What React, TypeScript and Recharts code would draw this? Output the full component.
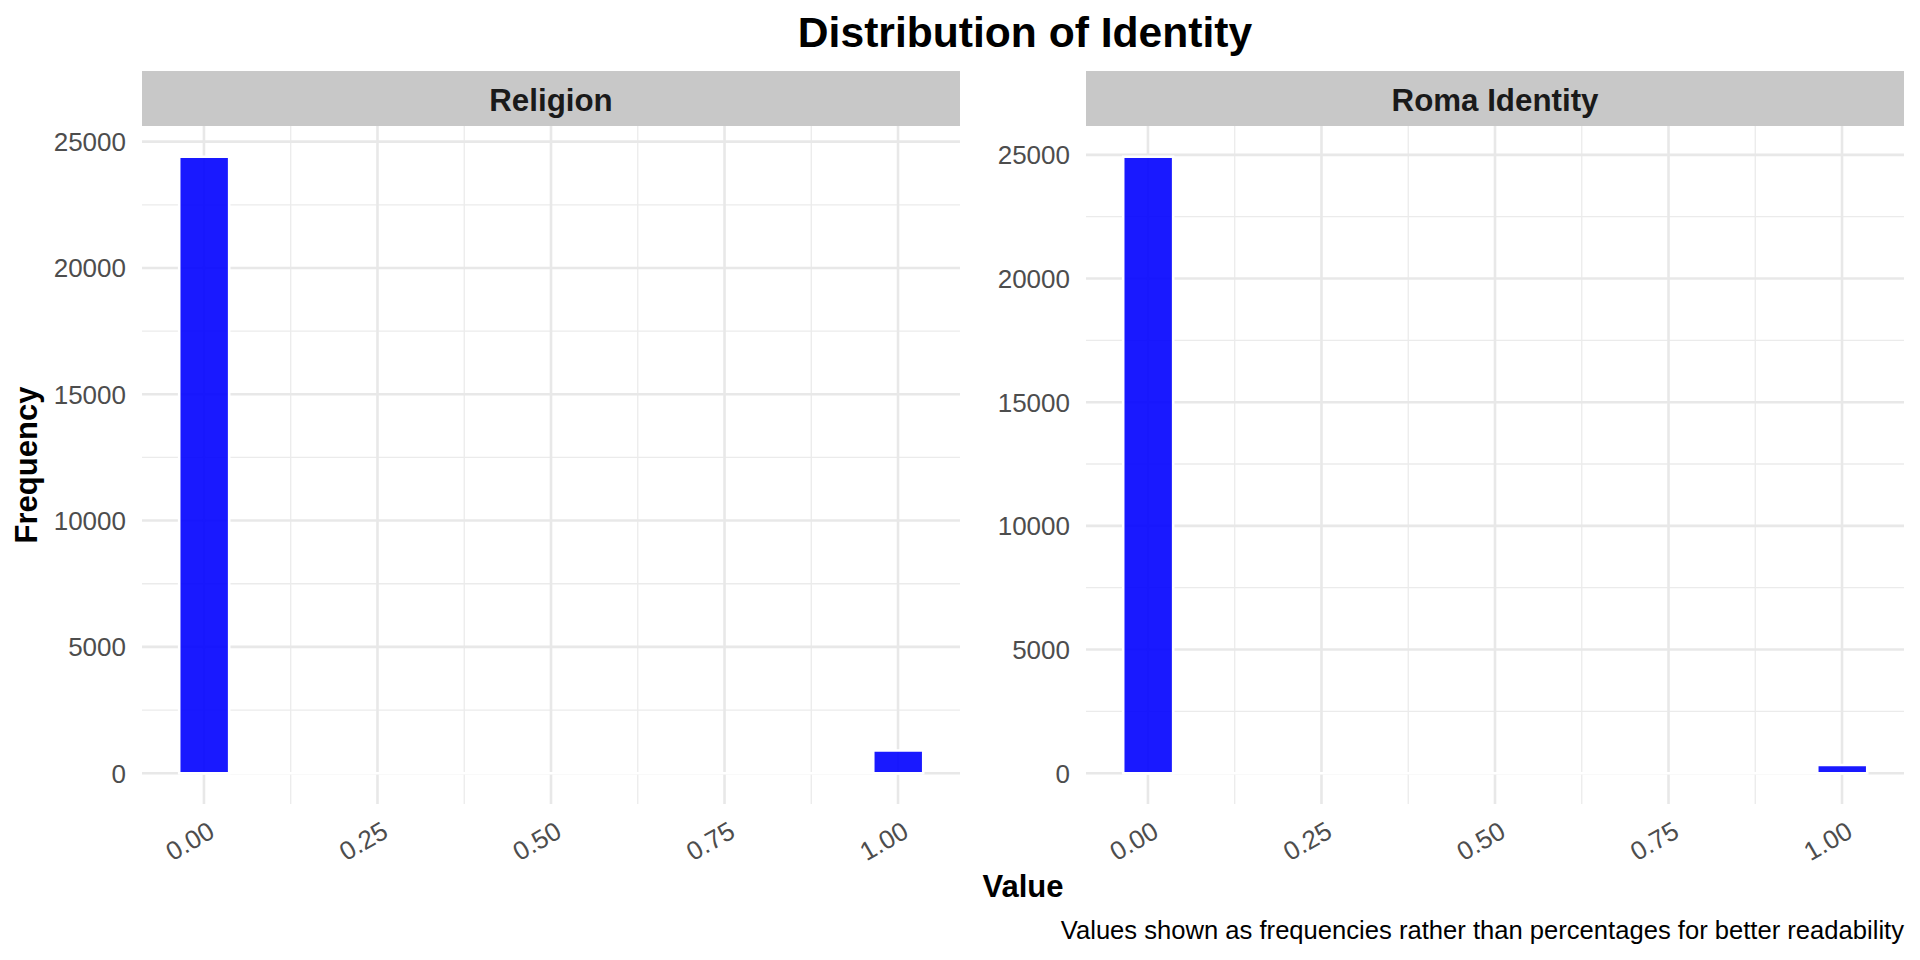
import { Bar, BarChart, CartesianGrid, ReferenceLine, XAxis, YAxis } from 'recharts';

// histogram bins (15 bins over 0..1), counts
const BIN_CENTERS = [
  0, 1 / 14, 2 / 14, 3 / 14, 4 / 14, 5 / 14, 6 / 14, 7 / 14,
  8 / 14, 9 / 14, 10 / 14, 11 / 14, 12 / 14, 13 / 14, 1,
];
const RELIGION_COUNTS = [24400, 0, 0, 0, 0, 0, 0, 0, 0, 0, 0, 0, 0, 0, 900];
const ROMA_COUNTS = [24920, 0, 0, 0, 0, 0, 0, 0, 0, 0, 0, 0, 0, 0, 330];

const X_TICKS = [0, 0.25, 0.5, 0.75, 1];
const X_MINOR = [0.125, 0.375, 0.625, 0.875];
const Y_TICKS = [0, 5000, 10000, 15000, 20000, 25000];
const Y_MINOR = [2500, 7500, 12500, 17500, 22500];

const FONT = '"Liberation Sans", Arial, Helvetica, sans-serif';
const BIN_WIDTH = 1 / 14;
const X_PAD = 0.05 * (1 + BIN_WIDTH);
const X_DOMAIN = [-BIN_WIDTH / 2 - X_PAD, 1 + BIN_WIDTH / 2 + X_PAD];

const CHART_TOP = 126;
const PLOT_H = 678;
const XAXIS_H = 80;
const TICK_FONT = 26;

function XTick(props: any) {
  const { x, y, payload } = props;
  const ax = x + 3;
  return (
    <text
      x={ax}
      y={y}
      dy="0.72em"
      textAnchor="end"
      transform={`rotate(-30 ${ax} ${y})`}
      fill="#4D4D4D"
      fontSize={TICK_FONT}
      fontFamily={FONT}
    >
      {Number(payload.value).toFixed(2)}
    </text>
  );
}

function YTick(props: any) {
  const { x, y, payload } = props;
  return (
    <text x={x} y={y} dy="0.36em" textAnchor="end" fill="#4D4D4D" fontSize={TICK_FONT} fontFamily={FONT}>
      {payload.value}
    </text>
  );
}

function Panel({ counts, width, yAxisWidth }: { counts: number[]; width: number; yAxisWidth: number }) {
  const data = BIN_CENTERS.map((x, i) => ({ x, count: counts[i] }));
  const max = Math.max(...counts);
  const yDomain = [-0.05 * max, 1.05 * max];

  return (
    <BarChart
      width={width}
      height={PLOT_H + XAXIS_H}
      data={data}
      margin={{ top: 0, right: 0, bottom: 0, left: 0 }}
      barCategoryGap={0}
      barGap={0}
    >
      <CartesianGrid horizontalValues={Y_MINOR} verticalValues={X_MINOR} stroke="#EBEBEB" strokeWidth={1.3} />
      <CartesianGrid horizontalValues={Y_TICKS} verticalValues={X_TICKS} stroke="#E8E8E8" strokeWidth={2.6} />
      <XAxis
        dataKey="x"
        type="number"
        domain={X_DOMAIN}
        ticks={X_TICKS}
        interval={0}
        allowDataOverflow
        axisLine={false}
        tickLine={false}
        tickSize={0}
        tickMargin={16}
        height={XAXIS_H}
        tick={XTick}
      />
      <YAxis
        type="number"
        domain={yDomain}
        ticks={Y_TICKS}
        interval={0}
        allowDataOverflow
        axisLine={false}
        tickLine={false}
        tickSize={0}
        tickMargin={16}
        width={yAxisWidth}
        tick={YTick}
      />
      <ReferenceLine
        segment={[
          { x: -BIN_WIDTH / 2, y: 0 },
          { x: 1 + BIN_WIDTH / 2, y: 0 },
        ]}
        stroke="#FFFFFF"
        strokeWidth={2.6}
      />
      <Bar
        dataKey="count"
        fill="#0000FF"
        fillOpacity={0.9}
        stroke="#FFFFFF"
        strokeWidth={2.6}
        isAnimationActive={false}
      />
    </BarChart>
  );
}

export default function App() {
  return (
    <div
      style={{
        position: 'absolute',
        left: 0,
        top: 0,
        width: 1920,
        height: 960,
        background: '#FFFFFF',
        fontFamily: FONT,
        overflow: 'hidden',
      }}
    >
      <div style={{ position: 'absolute', left: 0, top: CHART_TOP }}>
        <Panel counts={RELIGION_COUNTS} width={960} yAxisWidth={142} />
      </div>
      <div style={{ position: 'absolute', left: 960, top: CHART_TOP }}>
        <Panel counts={ROMA_COUNTS} width={944} yAxisWidth={126} />
      </div>

      <svg
        width={1920}
        height={960}
        style={{ position: 'absolute', left: 0, top: 0, pointerEvents: 'none' }}
        fontFamily={FONT}
      >
        <text x={1025} y={47} textAnchor="middle" fontSize={42.6} fontWeight="bold" fill="#000000">
          Distribution of Identity
        </text>

        <rect x={142} y={71} width={818} height={55} fill="#C8C8C8" />
        <text x={551} y={111} textAnchor="middle" fontSize={31.3} fontWeight="bold" fill="#1A1A1A">
          Religion
        </text>
        <rect x={1086} y={71} width={818} height={55} fill="#C8C8C8" />
        <text x={1495} y={111} textAnchor="middle" fontSize={31.3} fontWeight="bold" fill="#1A1A1A">
          Roma Identity
        </text>

        <text
          x={36.5}
          y={465}
          transform="rotate(-90 36.5 465)"
          textAnchor="middle"
          fontSize={31}
          fontWeight="bold"
          fill="#000000"
        >
          Frequency
        </text>
        <text x={1023} y={897} textAnchor="middle" fontSize={31} fontWeight="bold" fill="#000000">
          Value
        </text>
        <text x={1904} y={939} textAnchor="end" fontSize={25.6} fill="#000000">
          Values shown as frequencies rather than percentages for better readability
        </text>
      </svg>
    </div>
  );
}
